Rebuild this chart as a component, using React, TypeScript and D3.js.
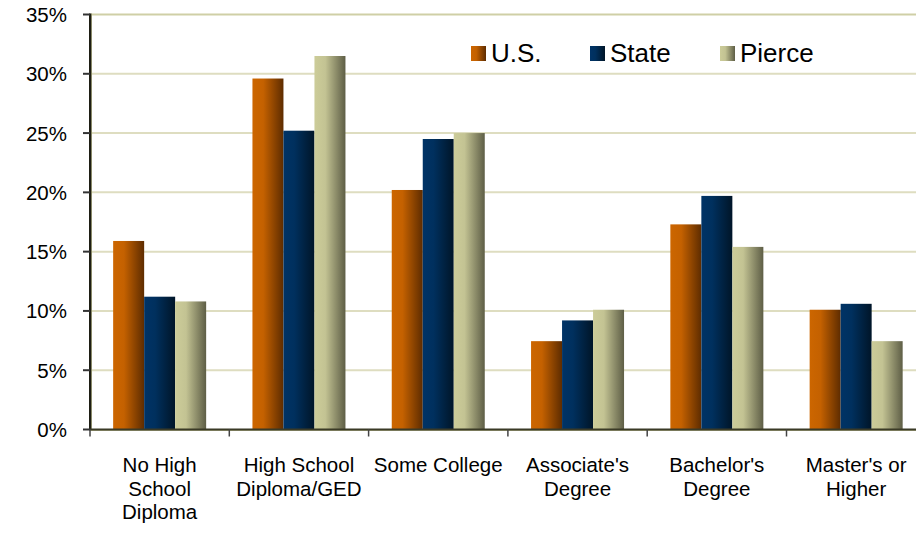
import React from "react";
import * as d3 from "d3";

const categories = [
  ["No High", "School", "Diploma"],
  ["High School", "Diploma/GED"],
  ["Some College"],
  ["Associate's", "Degree"],
  ["Bachelor's", "Degree"],
  ["Master's or", "Higher"],
];
const seriesNames = ["U.S.", "State", "Pierce"];
const usValues = [15.9, 29.6, 20.2, 7.45, 17.3, 10.1];
const stateValues = [11.2, 25.2, 24.5, 9.2, 19.7, 10.6];
const pierceValues = [10.8, 31.5, 25.0, 10.1, 15.4, 7.45];
const yTicks = [0, 5, 10, 15, 20, 25, 30, 35];

const seriesValues = [usValues, stateValues, pierceValues];
const gradients = [
  ["#cc6600", "#c46100", "#5e2c00"],
  ["#003366", "#00305e", "#001528"],
  ["#cccc99", "#c3c393", "#5e5e46"],
];

const W = 916;
const H = 546;
const left = 90;
const bandW = 139.3;
const y0 = 429.5;
const yTop = 14.5;

export default function App() {
  const x = d3
    .scaleBand<number>()
    .domain(d3.range(categories.length))
    .range([left, left + bandW * categories.length])
    .paddingInner(0)
    .paddingOuter(0);
  const inner = d3
    .scaleBand<number>()
    .domain(d3.range(seriesNames.length))
    .range([0, 93]);
  const groupOffset = (x.bandwidth() - 93) / 2;
  const y = d3.scaleLinear().domain([0, 35]).range([y0, yTop]);
  const font = "'Liberation Sans', Arial, sans-serif";

  return (
    <svg
      width={W}
      height={H}
      style={{ position: "absolute", left: 0, top: 0, background: "#fff" }}
      fontFamily={font}
    >
      <defs>
        {gradients.map((g, i) => (
          <linearGradient key={i} id={`g${i}`} x1="0" x2="1" y1="0" y2="0">
            <stop offset="0" stopColor={g[0]} />
            <stop offset="0.35" stopColor={g[1]} />
            <stop offset="1" stopColor={g[2]} />
          </linearGradient>
        ))}
      </defs>
      {/* gridlines */}
      {yTicks.slice(1).map((t) => (
        <line
          key={t}
          x1={left}
          x2={W}
          y1={y(t)}
          y2={y(t)}
          stroke={t === 35 ? "#cfcfa6" : "#deddc0"}
          strokeWidth={2}
        />
      ))}
      {/* bars */}
      {categories.map((_, ci) =>
        seriesValues.map((vals, si) => {
          const bx = (x(ci) as number) + groupOffset + (inner(si) as number);
          return (
            <rect
              key={`${ci}-${si}`}
              x={bx}
              y={y(vals[ci])}
              width={inner.bandwidth()}
              height={y0 - y(vals[ci])}
              fill={`url(#g${si})`}
            />
          );
        })
      )}
      {/* y axis */}
      <line x1={left + 1.5} x2={left + 1.5} y1={yTop - 1} y2={y0} stroke="#8a8a6a" strokeWidth={1} />
      <line x1={left} x2={left} y1={yTop - 1} y2={y0 + 1} stroke="#1e1e14" strokeWidth={2} />
      {yTicks.map((t) => (
        <g key={t}>
          <line x1={left - 7} x2={left} y1={y(t)} y2={y(t)} stroke="#333" strokeWidth={2} />
          <text
            x={67}
            y={y(t)}
            textAnchor="end"
            dominantBaseline="central"
            fontSize={20.5}
            fill="#000"
          >
            {t}%
          </text>
        </g>
      ))}
      {/* x axis */}
      <line x1={left} x2={W} y1={y0 + 1} y2={y0 + 1} stroke="#b9b98e" strokeWidth={1} />
      <line x1={left} x2={W} y1={y0} y2={y0} stroke="#3a3a26" strokeWidth={2} />
      {d3.range(categories.length + 1).map((i) => {
        const tx = left + i * x.step();
        return (
          <line key={i} x1={tx} x2={tx} y1={y0} y2={y0 + 7} stroke="#444" strokeWidth={1.5} />
        );
      })}
      {categories.map((lines, ci) => {
        const cx = (x(ci) as number) + x.bandwidth() / 2;
        return (
          <text key={ci} x={cx} textAnchor="middle" fontSize={20.5} fill="#000">
            {lines.map((l, li) => (
              <tspan key={li} x={cx} y={472 + li * 23.5}>
                {l}
              </tspan>
            ))}
          </text>
        );
      })}
      {/* legend */}
      {seriesNames.map((n, i) => {
        const lx = [471, 590, 720][i];
        return (
          <g key={n}>
            <rect x={lx} y={46} width={15} height={15} fill={`url(#g${i})`} />
            <text x={lx + 20} y={62} fontSize={26} fill="#000">
              {n}
            </text>
          </g>
        );
      })}
    </svg>
  );
}
